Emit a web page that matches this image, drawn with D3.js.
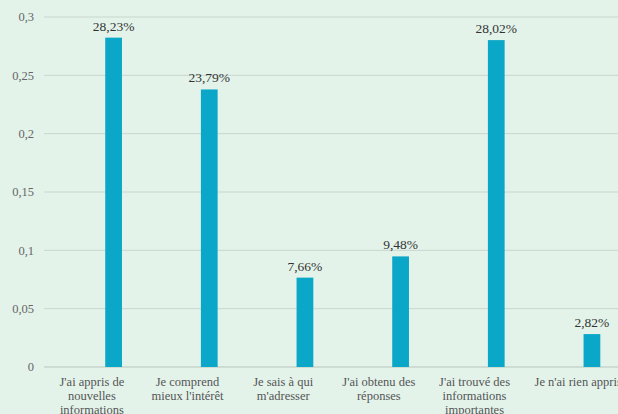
<!DOCTYPE html>
<html><head><meta charset="utf-8">
<script src="https://cdn.jsdelivr.net/npm/d3@7"></script>
<style>
html,body{margin:0;padding:0;background:#e3f3ea;}
svg{display:block;}
svg text{font-family:"Liberation Serif","DejaVu Serif","Times New Roman",Times,serif;}
</style></head>
<body>
<script>
const categories = [
  ["J'ai appris de","nouvelles","informations"],
  ["Je comprend","mieux l'intérêt"],
  ["Je sais à qui","m'adresser"],
  ["J'ai obtenu des","réponses"],
  ["J'ai trouvé des","informations","importantes"],
  ["Je n'ai rien appris"]
];
const values = [0.2823, 0.2379, 0.0766, 0.0948, 0.2802, 0.0282];
const valueLabels = ["28,23%","23,79%","7,66%","9,48%","28,02%","2,82%"];
const yTicks = [0, 0.05, 0.1, 0.15, 0.2, 0.25, 0.3];
const yTickLabels = ["0","0,05","0,1","0,15","0,2","0,25","0,3"];

const W = 618, H = 414;
const m = {left:44, right:0, top:17, bottom:47};
const svg = d3.select("body").append("svg").attr("width",W).attr("height",H);
svg.append("rect").attr("width",W).attr("height",H).attr("fill","#e3f3ea");

const x = d3.scaleBand().domain(d3.range(categories.length)).range([m.left, W - m.right]);
const y = d3.scaleLinear().domain([0,0.3]).range([H - m.bottom, m.top]);

// gridlines
svg.append("g").selectAll("line").data(yTicks).join("line")
  .attr("x1", m.left).attr("x2", W).attr("y1", d=>y(d)).attr("y2", d=>y(d))
  .attr("stroke", d=> d===0 ? "#b9c6be" : "#c9d6ce").attr("stroke-width",1);

// y tick labels
svg.append("g").selectAll("text").data(yTicks).join("text")
  .attr("x", 34).attr("y", d=>y(d)).attr("dy","0.35em")
  .attr("text-anchor","end").style("font-size","12.5px")
  .attr("fill","#666").text((d,i)=>yTickLabels[i]);

const bw = x.bandwidth()*0.175;
const bx = i => x(i) + x.bandwidth()*0.64;

svg.append("g").selectAll("rect").data(values).join("rect")
  .attr("x",(d,i)=>bx(i)).attr("width",bw)
  .attr("y",d=>y(d)).attr("height",d=>y(0)-y(d))
  .attr("fill","#0ba7c8");

svg.append("g").selectAll("text").data(values).join("text")
  .attr("x",(d,i)=>bx(i)+bw/2).attr("y",d=>y(d)-7)
  .attr("text-anchor","middle").style("font-size","13.5px")
  .attr("fill","#333").text((d,i)=>valueLabels[i]);

// x labels
const xl = svg.append("g").selectAll("text").data(categories).join("text")
  .attr("text-anchor","middle").style("font-size","12.5px")
  .attr("fill","#555")
  .attr("transform",(d,i)=>`translate(${x(i)+x.bandwidth()/2 + (i===5?8:0)},${y(0)+19})`);
xl.selectAll("tspan").data(d=>d).join("tspan")
  .attr("x",0).attr("dy",(d,i)=> i===0?0:14).text(d=>d);
</script>
</body></html>
